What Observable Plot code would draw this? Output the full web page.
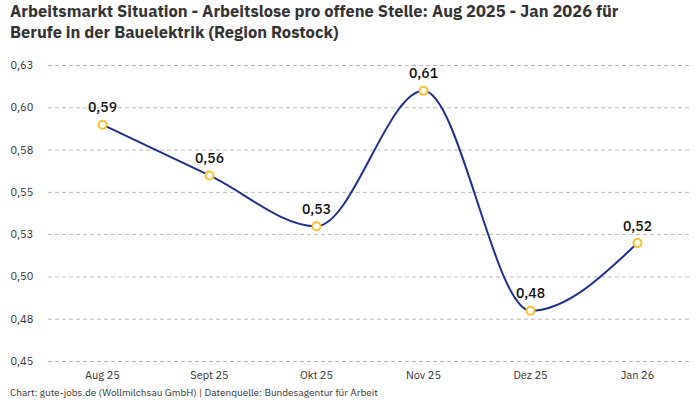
<!DOCTYPE html>
<html><head><meta charset="utf-8">
<script src="https://cdn.jsdelivr.net/npm/d3@7"></script>
<script src="https://cdn.jsdelivr.net/npm/@observablehq/plot@0.6"></script>
<style>
body{margin:0;background:#fff;font-family:"IBM Plex Sans",Roboto,"Noto Sans",sans-serif;}
#wrap{width:700px;height:400px;position:relative;}
h1{margin:0;position:absolute;left:10px;top:1px;font-size:16.5px;line-height:20.5px;font-weight:700;color:#333;width:690px;white-space:nowrap;}
#cap{position:absolute;left:10px;top:386px;font-size:10px;color:#333;}
#chart{position:absolute;left:0;top:44px;}
</style></head>
<body><div id="wrap">
<h1>Arbeitsmarkt Situation - Arbeitslose pro offene Stelle: Aug 2025 - Jan 2026 für<br>Berufe in der Bauelektrik (Region Rostock)</h1>
<div id="chart"></div>
<div id="cap">Chart: gute-jobs.de (Wollmilchsau GmbH) | Datenquelle: Bundesagentur für Arbeit</div>
</div>
<script>
const months = ["Aug 25","Sept 25","Okt 25","Nov 25","Dez 25","Jan 26"];
const values = [0.59, 0.56, 0.53, 0.61, 0.48, 0.52];
const valueLabels = ["0,59","0,56","0,53","0,61","0,48","0,52"];
const yTicks = [0.45,0.475,0.5,0.525,0.55,0.575,0.6,0.625];
const yTickLabels = ["0,45","0,48","0,50","0,53","0,55","0,58","0,60","0,63"];

const data = months.map((m,i)=>({m, v: values[i], label: valueLabels[i]}));
const tickLabel = new Map(yTicks.map((t,i)=>[t, yTickLabels[i]]));

const chart = Plot.plot({
  width: 700,
  height: 341,
  marginLeft: 48,
  marginRight: 10,
  marginTop: 21,
  marginBottom: 24,
  style: {fontFamily: '"IBM Plex Sans",Roboto,"Noto Sans",sans-serif', fontSize: "11px", color: "#333"},
  x: {type: "point", domain: months, padding: 0.5, label: null},
  y: {domain: [0.45, 0.625], label: null},
  marks: [
    Plot.gridY(yTicks, {stroke: "#bbb", strokeOpacity: 1, strokeDasharray: "4,3"}),
    Plot.axisY(yTicks, {tickSize: 0, tickPadding: 0, textAnchor: "start", dx: -38, tickFormat: d => tickLabel.get(d), fill: "#333", fontSize: 11}),
    Plot.axisX(months, {tickSize: 0, tickPadding: 10, fill: "#333", fontSize: 11}),
    Plot.line(data, {x: "m", y: "v", curve: "monotone-x", stroke: "#1f2f8f", strokeWidth: 2}),
    Plot.dot(data, {x: "m", y: "v", r: 4, fill: "white", stroke: "#fbc02d", strokeWidth: 2}),
    Plot.text(data, {x: "m", y: "v", text: "label", dy: -17, fontSize: 14, fontWeight: 500, fill: "#111"})
  ]
});
document.getElementById("chart").appendChild(chart);
</script>
</body></html>
